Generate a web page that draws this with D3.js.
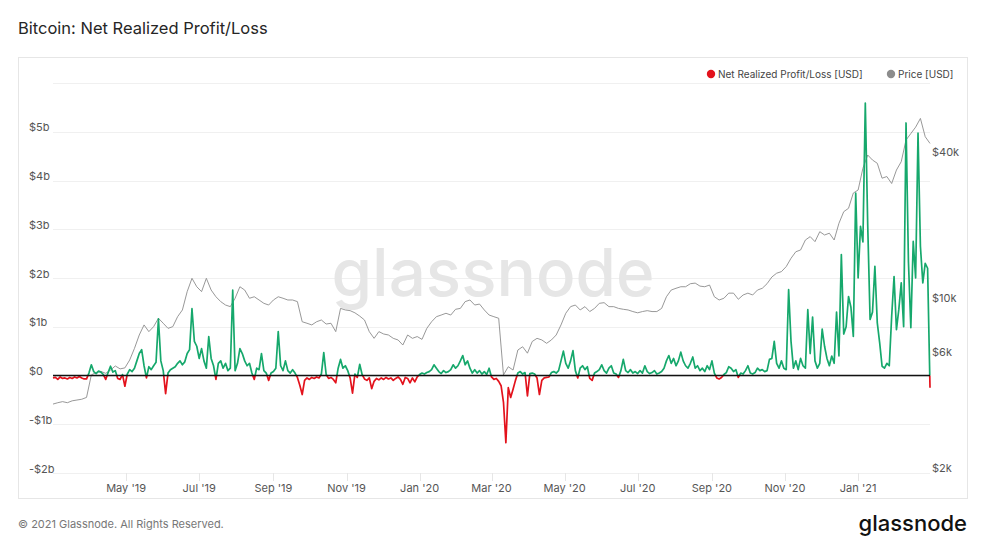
<!DOCTYPE html>
<html><head><meta charset="utf-8">
<script src="https://cdn.jsdelivr.net/npm/d3@7"></script>
<style>
body{margin:0;background:#fff;}
svg{display:block;font-family:Inter,"Noto Sans",sans-serif;}
</style>
</head><body><svg id="c" width="982" height="546"></svg>
<script>
// ---- data ----
const startDate = "2019-03-01";
const endDate = "2021-03-02";
const nrplStepDays = 2;
const nrplBillions = [
-0.05,-0.04,-0.08,-0.03,-0.06,-0.05,-0.07,-0.04,-0.06,-0.03,-0.05,-0.02,-0.05,-0.07,-0.07,
0.05,0.22,0.08,0.04,0.09,0.07,0.02,-0.08,0.06,0.19,0.07,0.1,-0.06,-0.08,0.02,
-0.22,0.03,0.12,0.08,0.15,0.3,0.45,0.53,0.2,-0.05,0.18,0.12,0.2,0.27,1.16,
0.3,0.1,-0.37,0.05,0.12,0.15,0.18,0.25,0.3,0.22,0.28,0.45,0.53,1.37,0.7,
0.6,0.35,0.55,0.3,0.15,0.8,0.35,0.2,-0.08,0.25,0.3,0.15,0.25,0.1,0.15,
1.75,0.1,0.25,0.55,0.45,0.3,0.2,0.25,0.05,-0.08,0.15,0.12,0.45,0.1,0.05,
-0.1,0.05,0.08,0.15,0.9,0.2,0.1,0.3,0.1,0.05,
0.12,0.05,-0.04,-0.2,-0.39,-0.1,-0.05,-0.08,-0.04,-0.06,-0.03,-0.05,0.03,0.47,0.02,
-0.06,-0.04,-0.08,-0.15,0.15,0.33,0.15,0.2,0.1,-0.05,-0.36,0.03,-0.04,0.23,0.02,
-0.07,-0.1,-0.05,-0.27,-0.12,-0.06,-0.09,-0.05,-0.08,-0.04,-0.07,-0.05,-0.1,-0.06,-0.03,
-0.08,-0.18,-0.04,-0.06,-0.15,-0.05,-0.13,-0.03,0.02,0.05,0.03,0.06,0.08,0.12,0.22,
0.15,0.08,0.04,0.1,0.06,0.08,0.12,0.22,0.15,0.2,0.3,0.41,0.22,0.3,0.15,
0.05,0.12,0.05,0.1,0.03,0.08,0.02,0.15,-0.03,-0.08,-0.06,-0.12,-0.21,-0.55,-1.38,
-0.25,-0.45,-0.28,-0.1,0.05,0.08,0.03,0.06,-0.42,0.04,
0.05,0.03,-0.05,-0.39,-0.1,-0.05,-0.04,-0.03,0.06,0.08,0.05,0.1,0.3,0.5,0.25,
0.15,0.3,0.51,0.1,-0.05,0.15,0.2,0.12,0.18,-0.06,-0.1,0.05,0.08,0.12,0.22,
0.1,0.05,0.15,0.2,0.05,0.03,-0.04,0.1,0.33,0.1,0.06,0.12,0.05,0.08,0.04,
0.1,0.05,0.2,0.08,0.04,0.06,0.1,0.03,0.05,0.08,0.15,0.3,0.41,0.25,0.35,
0.2,0.3,0.48,0.3,0.2,0.15,0.25,0.38,0.15,0.2,0.1,0.15,0.08,0.2,0.12,
0.3,0.05,-0.05,-0.07,-0.04,0.02,0.06,0.18,0.15,0.08,0.12,-0.04,0.05,0.03,0.1,
0.2,0.05,0.03,0.06,0.15,0.1,0.12,0.08,0.1,0.33,
0.35,0.7,0.25,0.15,0.3,0.15,0.12,1.76,0.7,0.15,0.3,0.12,0.35,0.2,0.15,
1.35,0.45,1.2,0.3,0.15,0.25,0.95,0.6,0.35,0.2,0.4,0.25,1.3,0.4,2.48,
0.85,1.0,1.62,1.4,0.8,3.74,2.0,3.06,2.74,5.59,3.1,1.15,1.3,2.24,1.08,
0.67,0.19,0.15,0.25,0.2,1.21,2.03,0.94,1.36,1.9,1.0,5.18,2.34,0.98,2.75,
2.0,4.97,2.65,1.9,2.3,2.2,-0.25
];
const priceStepDays = 4;
const priceUSD = [
3830,3880,3920,3880,3950,3980,4010,4080,5050,5170,
5220,5130,5290,5500,5350,5400,5820,6500,7380,8120,
7620,7990,8650,8250,7860,7990,8780,9360,11140,12640,
11670,11140,12640,11310,10610,10130,9810,9660,10460,11670,
11310,10460,10610,10290,9970,9810,10290,10610,10460,10290,
10290,10130,8370,8250,8120,8370,8510,8190,8250,7620,
9500,9360,9300,9110,8830,8510,7620,7150,7620,7450,
7380,7150,7040,6710,7380,7150,7270,7080,7860,8370,
8780,8920,9070,8920,9420,9500,10130,10290,9810,9900,
9360,8920,8780,8650,5050,5460,5290,6400,6600,6210,
6940,7150,7040,6820,7040,7380,8120,9070,9660,9810,
9360,9660,9220,9500,9970,10030,9660,9660,9500,9420,
9360,9220,9110,9220,9300,9220,9220,9500,10610,11310,
11500,11670,11670,12010,12080,11740,11670,11860,10610,10290,
10460,10980,10980,10360,10790,10980,10790,11310,11500,12010,
12800,13270,13470,14130,15290,16270,16545,18190,18780,17910,
19680,19075,19400,18190,21320,23800,24580,28400,29240,35950,
40760,38870,37680,32710,33220,31100,35350,38270,47000,49980,
53110,57700,48500,45500
];
const leftTicks = [-2,-1,0,1,2,3,4,5];
const gridTicks = [-2,-1,0,1,2,3,4,5,6];
const rightTicks = [2000,6000,10000,40000];
const xTickDates = ["2019-05-01","2019-07-01","2019-09-01","2019-11-01","2020-01-01","2020-03-01","2020-05-01","2020-07-01","2020-09-01","2020-11-01","2021-01-01"];
const xTickLabels = ["May '19","Jul '19","Sep '19","Nov '19","Jan '20","Mar '20","May '20","Jul '20","Sep '20","Nov '20","Jan '21"];
const legendLabels = ["Net Realized Profit/Loss [USD]","Price [USD]"];
const titleText = "Bitcoin: Net Realized Profit/Loss";

// ---- drawing ----
const parse = d3.utcParse("%Y-%m-%d");
const t0 = parse(startDate);
const DAY = 86400000;
const nrpl = nrplBillions.map((v,i)=>({date:new Date(+t0 + i*nrplStepDays*DAY), v}));
const price = priceUSD.map((p,i)=>({date:new Date(+t0 + i*priceStepDays*DAY), p}));

const svg = d3.select("#c");
const GREEN = "#16a86c", RED = "#e3121c", GREY = "#8c8c8c";

const x = d3.scaleUtc().domain([t0, parse(endDate)]).range([53, 930]);
const yL = d3.scaleLinear().domain([-2, 6]).range([473, 83]);
const yR = d3.scaleLog().domain([2000, 60000]).range([472.5, 114.3]);

svg.append("rect").attr("width",982).attr("height",546).attr("fill","#fff");

svg.append("text").attr("x",18).attr("y",34).attr("font-size",16.5).attr("fill","#262626")
  .attr("font-weight",400).text(titleText);

svg.append("rect").attr("x",18.5).attr("y",57.5).attr("width",949).attr("height",441)
  .attr("fill","none").attr("stroke","#e6e6e6");

// gridlines
svg.append("g").selectAll("line").data(gridTicks).join("line")
  .attr("x1",53).attr("x2",930).attr("y1",d=>Math.round(yL(d))+0.5).attr("y2",d=>Math.round(yL(d))+0.5)
  .attr("stroke","#f0f0f0");

// x ticks
svg.append("g").selectAll("line").data(xTickDates).join("line")
  .attr("x1",d=>Math.round(x(parse(d)))+0.5).attr("x2",d=>Math.round(x(parse(d)))+0.5)
  .attr("y1",473).attr("y2",481).attr("stroke","#e6e6e6");
svg.append("g").selectAll("text").data(xTickDates).join("text")
  .attr("x",d=>x(parse(d))).attr("y",492).attr("text-anchor","middle")
  .attr("font-size",11).attr("fill","#555").text((d,i)=>xTickLabels[i]);

// watermark
svg.append("text").attr("x",493).attr("y",296).attr("text-anchor","middle")
  .attr("font-size",66).attr("font-weight",500).attr("fill","#e6e6e6")
  .attr("textLength",323).attr("lengthAdjust","spacingAndGlyphs").text("glassnode");

// left axis labels
svg.append("g").selectAll("text").data(leftTicks).join("text")
  .attr("x",29).attr("y",d=>yL(d)-0.5).attr("font-size",11).attr("fill","#555")
  .text(d=> d<0 ? "-$"+Math.abs(d)+"b" : (d===0?"$0":"$"+d+"b"));

// right axis labels
svg.append("g").selectAll("text").data(rightTicks).join("text")
  .attr("x",932).attr("y",d=>yR(d)-1).attr("font-size",11).attr("fill","#555")
  .text(d=>"$"+(d/1000)+"k");

// price line
const priceLine = d3.line().x(d=>x(d.date)).y(d=>yR(d.p));
svg.append("path").datum(price).attr("d",priceLine).attr("fill","none")
  .attr("stroke",GREY).attr("stroke-width",0.9);

// NRPL line split at zero
const zeroY = yL(0);
const defs = svg.append("defs");
defs.append("clipPath").attr("id","clipPos").append("rect")
  .attr("x",40).attr("y",60).attr("width",900).attr("height",zeroY-60);
defs.append("clipPath").attr("id","clipNeg").append("rect")
  .attr("x",40).attr("y",zeroY).attr("width",900).attr("height",473-zeroY+20);
const nLine = d3.line().x(d=>x(d.date)).y(d=>yL(d.v));
svg.append("path").datum(nrpl).attr("d",nLine).attr("fill","none")
  .attr("stroke",GREEN).attr("stroke-width",1.7).attr("stroke-linejoin","round").attr("clip-path","url(#clipPos)");
svg.append("path").datum(nrpl).attr("d",nLine).attr("fill","none")
  .attr("stroke",RED).attr("stroke-width",1.7).attr("stroke-linejoin","round").attr("clip-path","url(#clipNeg)");

// zero line
svg.append("line").attr("x1",53).attr("x2",930).attr("y1",zeroY).attr("y2",zeroY)
  .attr("stroke","#111").attr("stroke-width",1.5);

// legend
const lg = svg.append("g").attr("font-size",10).attr("fill","#444");
lg.append("circle").attr("cx",711).attr("cy",74).attr("r",4.2).attr("fill",RED);
lg.append("text").attr("x",718).attr("y",77.5).text(legendLabels[0]);
lg.append("circle").attr("cx",891).attr("cy",74).attr("r",4.2).attr("fill",GREY);
lg.append("text").attr("x",898).attr("y",77.5).text(legendLabels[1]);

// footer
svg.append("text").attr("x",18).attr("y",528).attr("font-size",11).attr("fill","#777")
  .text("© 2021 Glassnode. All Rights Reserved.");
svg.append("text").attr("x",967).attr("y",531).attr("text-anchor","end")
  .attr("font-size",22).attr("font-weight",500).attr("fill","#111")
  .text("glassnode");
</script>
</body></html>
